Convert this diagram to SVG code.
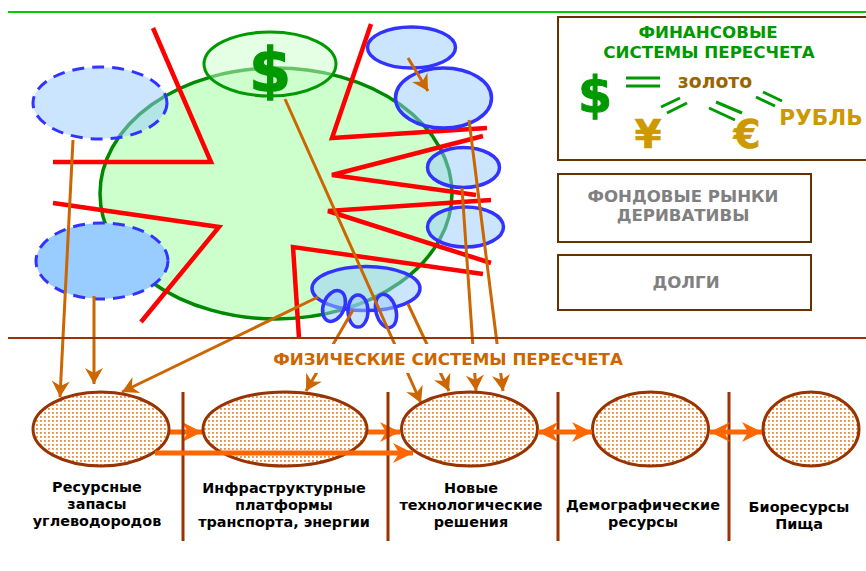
<svg xmlns="http://www.w3.org/2000/svg" width="866" height="571" viewBox="0 0 866 571">
<style>
text{font-family:"DejaVu Sans",Verdana,sans-serif;font-weight:700;text-anchor:middle}
.cap{font-size:14.400px;fill:#000}
.gr{font-size:16.600px;fill:#808080}
.fin{font-size:16.700px;fill:#009900}
.red{fill:none;stroke:#f00;stroke-width:4.500}
.blue{stroke:#3333ff;stroke-width:3.500;fill:#99ccff;fill-opacity:.5}
.dash{stroke:#3333ff;stroke-width:3;stroke-dasharray:12 8;fill:#99ccff;fill-opacity:.5}
.res{stroke:#993300;stroke-width:3;fill:url(#po)}
.div{stroke:#993300;stroke-width:3}
.ot{stroke:#cc6600;stroke-width:3;fill:none;marker-end:url(#ah)}
.f{stroke:#ff6600;stroke-width:5;fill:none;marker-end:url(#fh)}
.fd{stroke:#ff6600;stroke-width:5;fill:none;marker-end:url(#fh);marker-start:url(#fs)}
.box{fill:#fff;stroke:#663300;stroke-width:2}
.eq{stroke:#009900;stroke-width:3}
</style>
<defs>
<pattern id="po" width="4" height="4" patternUnits="userSpaceOnUse"><rect width="4" height="4" fill="#fff"/><rect width="2" height="2" fill="#eda565"/><rect width="1" height="1" fill="#e88c3c"/></pattern>
<marker id="ah" markerUnits="userSpaceOnUse" markerWidth="22" markerHeight="22" viewBox="-18 -11 22 22" refX="0" refY="0" orient="auto"><path d="M0,0L-16,-9L-11,0L-16,9Z" fill="#cc6600"/></marker>
<marker id="fh" markerUnits="userSpaceOnUse" markerWidth="26" markerHeight="26" viewBox="-22 -13 26 26" refX="0" refY="0" orient="auto"><path d="M0,0L-20,-10L-14,0L-20,10Z" fill="#ff6600"/></marker>
<marker id="fs" markerUnits="userSpaceOnUse" markerWidth="26" markerHeight="26" viewBox="-4 -13 26 26" refX="0" refY="0" orient="auto"><path d="M0,0L20,-10L14,0L20,10Z" fill="#ff6600"/></marker>
</defs>
<rect width="866" height="571" fill="#fff"/>
<line x1="8" y1="12" x2="866" y2="12" stroke="#00cc00" stroke-width="2"/>
<g id="node-core"><ellipse cx="276" cy="193.500" rx="176" ry="125.500" fill="#ccffcc" stroke="#008800" stroke-width="3.500"/></g>
<g id="node-resource-top"><ellipse class="dash" cx="100" cy="103" rx="67" ry="36"/></g>
<g id="node-resource-bottom"><ellipse cx="102" cy="261" rx="66" ry="38" fill="#99ccff" stroke="#3333ff" stroke-width="3" stroke-dasharray="12 8"/></g>
<g id="red-lines">
<polyline class="red" points="153,28 211,162 53,162"/>
<polyline class="red" points="53,203 219,227 141,322"/>
<polyline class="red" points="371,24 332,138 487,128"/>
<polyline class="red" points="483,136 332,175 476,195"/>
<polyline class="red" points="491,200 328,211 491,263"/>
<polyline class="red" points="483,274 293,247 299,338"/>
</g>
<g id="node-dollar"><ellipse cx="270" cy="64" rx="66" ry="32" fill="#ccffcc" fill-opacity=".5" stroke="#009900" stroke-width="3"/>
<text x="270" y="91" font-size="60" fill="#009900" stroke="#009900" stroke-width="1.500">$</text></g>
<g id="node-b1"><ellipse class="blue" cx="411.500" cy="47.500" rx="44" ry="20.500"/></g>
<g id="node-b2"><ellipse class="blue" cx="443.500" cy="98" rx="48" ry="30"/></g>
<g id="node-b3"><ellipse class="blue" cx="463.500" cy="167.500" rx="36" ry="20"/></g>
<g id="node-b4"><ellipse class="blue" cx="465.500" cy="227" rx="38" ry="20"/></g>
<g id="node-b5"><ellipse class="blue" cx="366" cy="288.500" rx="54" ry="22"/>
<ellipse class="blue" cx="334" cy="306" rx="10.500" ry="16" transform="rotate(22 334 306)"/>
<ellipse class="blue" cx="358" cy="311" rx="10" ry="16"/>
<ellipse class="blue" cx="386" cy="311" rx="10" ry="17" transform="rotate(-15 386 311)"/></g>
<g id="connectors">
<line class="ot" x1="73" y1="140" x2="60" y2="397"/>
<line class="ot" x1="94" y1="296" x2="94" y2="384"/>
<line class="ot" x1="318" y1="297" x2="122" y2="392"/>
<line class="ot" x1="353" y1="310" x2="306" y2="391"/>
<line class="ot" x1="285" y1="99" x2="421" y2="403"/>
<line class="ot" x1="408" y1="304" x2="449" y2="391"/>
<line class="ot" x1="462" y1="188" x2="476" y2="391"/>
<line class="ot" x1="469" y1="120" x2="503" y2="391"/>
<line class="ot" x1="408" y1="58" x2="428" y2="91"/>
</g>
<rect x="268" y="344" width="360" height="29" fill="#fff"/>
<line x1="8" y1="338" x2="866" y2="338" stroke="#993300" stroke-width="2"/>
<g id="bottom-connectors">
<line class="f" x1="168" y1="432" x2="202" y2="432"/>
<line class="f" x1="366" y1="432" x2="400" y2="432"/>
</g>
<g id="node-r1"><ellipse class="res" cx="101" cy="429" rx="68" ry="37"/>
<text class="cap" x="97" y="492">Ресурсные</text><text class="cap" x="97" y="509">запасы</text><text class="cap" x="97" y="526">углеводородов</text></g>
<g id="node-r2"><ellipse class="res" cx="285" cy="429" rx="82" ry="37"/>
<text class="cap" x="284" y="493">Инфраструктурные</text><text class="cap" x="284" y="510">платформы</text><text class="cap" x="284" y="527">транспорта, энергии</text></g>
<g id="node-r3"><ellipse class="res" cx="469.500" cy="429" rx="68" ry="37"/>
<text class="cap" x="471" y="493">Новые</text><text class="cap" x="471" y="510">технологические</text><text class="cap" x="471" y="527">решения</text></g>
<g id="node-r4"><ellipse class="res" cx="650.500" cy="429" rx="58" ry="37"/>
<text class="cap" x="643" y="510">Демографические</text><text class="cap" x="643" y="527">ресурсы</text></g>
<g id="node-r5"><ellipse class="res" cx="811" cy="429" rx="48" ry="37"/>
<text class="cap" x="799" y="512">Биоресурсы</text><text class="cap" x="799" y="529">Пища</text></g>
<g id="dividers">
<line class="div" x1="183" y1="392" x2="183" y2="541"/>
<line class="div" x1="388" y1="392" x2="388" y2="541"/>
<line class="div" x1="558" y1="392" x2="558" y2="541"/>
<line class="div" x1="729" y1="392" x2="729" y2="541"/>
</g>
<g id="long-connectors">
<line class="f" x1="155" y1="453" x2="413" y2="453"/>
<line class="fd" x1="538" y1="432" x2="592" y2="432"/>
<line class="fd" x1="710" y1="432" x2="762" y2="432"/>
</g>
<text x="448" y="365" font-size="16.700" fill="#cc6600">ФИЗИЧЕСКИЕ СИСТЕМЫ ПЕРЕСЧЕТА</text>
<g id="node-fin"><rect class="box" x="558" y="17" width="320" height="143"/>
<text class="fin" x="708" y="38">ФИНАНСОВЫЕ</text>
<text class="fin" x="709" y="58">СИСТЕМЫ ПЕРЕСЧЕТА</text>
<text x="595" y="112" font-size="49" fill="#009900" stroke="#009900">$</text>
<line class="eq" x1="626" y1="78" x2="660" y2="78"/><line class="eq" x1="626" y1="86" x2="660" y2="86"/>
<text x="715" y="88" font-size="18.800" fill="#996600">золото</text>
<line class="eq" x1="661" y1="107" x2="680" y2="98"/><line class="eq" x1="667" y1="113" x2="687" y2="103"/>
<line class="eq" x1="716" y1="102" x2="742" y2="113"/><line class="eq" x1="709" y1="108" x2="735" y2="120"/>
<line class="eq" x1="763" y1="92" x2="782" y2="101"/><line class="eq" x1="756" y1="97" x2="775" y2="106"/>
<text x="821" y="125" font-size="21.600" fill="#cc9900">РУБЛЬ</text>
<text x="648" y="148" font-size="39" fill="#cc9900" stroke="#cc9900" stroke-width=".5">¥</text>
<text x="747" y="148" font-size="39" fill="#cc9900" stroke="#cc9900" stroke-width=".5">€</text></g>
<g id="node-stock"><rect class="box" x="558" y="174" width="253" height="68"/>
<text class="gr" x="683" y="202">ФОНДОВЫЕ РЫНКИ</text><text class="gr" x="683" y="221">ДЕРИВАТИВЫ</text></g>
<g id="node-debt"><rect class="box" x="558" y="255" width="253" height="55"/>
<text class="gr" x="686" y="288">ДОЛГИ</text></g>
</svg>
